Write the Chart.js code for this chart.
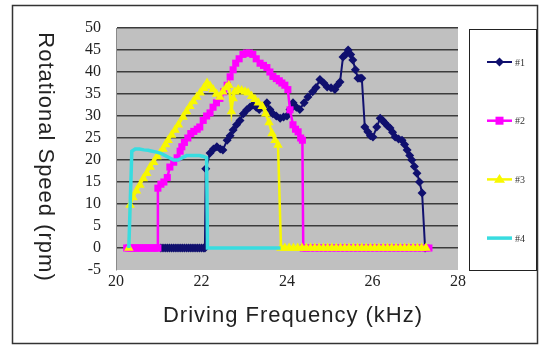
<!DOCTYPE html>
<html>
<head>
<meta charset="utf-8">
<script src="https://cdn.jsdelivr.net/npm/chart.js@4.4.1/dist/chart.umd.min.js"></script>
<style>
  body { margin: 0; background: #fff; }
  canvas { display: block; }
</style>
</head>
<body>
<canvas id="grafico" width="539" height="347"></canvas>
<script>
// Datos (frecuencia en kHz, velocidad en rpm)
const nombres = ['#1', '#2', '#3', '#4'];

const freq1 = [21.05,21.1,21.15,21.2,21.25,21.3,21.35,21.4,21.45,21.5,21.55,21.6,21.65,21.7,21.75,21.8,21.85,21.9,21.95,22.0,22.05,22.08,
  22.1,22.2,22.28,22.36,22.44,22.5,22.6,22.67,22.74,22.82,22.9,22.98,23.06,23.13,23.2,23.28,23.35,23.44,23.53,23.6,
  23.67,23.75,23.84,23.92,24.0,24.07,24.14,24.22,24.3,24.4,24.49,24.6,24.68,24.77,24.86,24.94,25.03,25.12,25.18,25.24,
  25.31,25.37,25.43,25.49,25.54,25.6,25.66,25.71,25.75,25.82,25.89,25.95,26.01,26.1,26.18,26.24,26.29,26.35,26.41,26.47,
  26.53,26.61,26.69,26.75,26.81,26.87,26.92,26.98,27.04,27.1,27.16,27.23];
const vel1 = [0,0,0,0,0,0,0,0,0,0,0,0,0,0,0,0,0,0,0,0,0,0,
  18,21.6,22.5,23,22.5,22.3,24.5,25.5,26.8,28,29,30.5,31.4,32,32.5,32,31.5,32,33,31.5,
  30.5,30,29.5,29.8,30,31.5,33,32,31.5,33,34.3,35.5,36.5,38.3,37.5,36.6,36.4,36,37,37.7,
  43.4,44,45,44,42.7,40.5,38.6,38.6,38.6,27.5,26.4,25.5,25.2,27.5,29.5,29,28.4,27.8,27.3,26.3,
  25.2,24.8,24.5,23.5,22.3,21,20,18.5,17,15,12.5,0];

const freq2 = [20.25,20.3,20.35,20.4,20.45,20.5,20.55,20.6,20.65,20.7,20.75,20.8,20.85,20.9,20.95,20.98,
  20.98,21.05,21.12,21.2,21.26,21.35,21.43,21.5,21.54,21.6,21.68,21.75,21.82,21.9,21.96,22.04,22.12,22.2,22.27,22.35,
  22.43,22.52,22.6,22.67,22.74,22.8,22.88,22.97,23.05,23.12,23.2,23.28,23.37,23.45,23.53,23.6,23.67,23.75,23.82,23.88,
  23.95,24.02,24.07,24.14,24.2,24.26,24.32,24.36,24.38,
  24.45,24.55,24.65,24.75,24.85,24.95,25.05,25.15,25.25,25.35,25.45,25.55,25.65,25.75,25.85,25.95,
  26.05,26.15,26.25,26.35,26.45,26.55,26.65,26.75,26.85,26.95,27.05,27.15,27.25,27.32];
const vel2 = [0,0,0,0,0,0,0,0,0,0,0,0,0,0,0,0,
  13.6,14.5,15,16,18.4,19.5,20.5,22,23,24,25,26,26.5,27,27.5,29,30,30.7,32,33,
  34,35.5,37,38.9,40.5,42,43,44,44.3,44.3,44,43,42,41.5,41,40,39,38.5,38,37.5,
  37,36,31.4,28,27,26.4,25,24.5,0,
  0,0,0,0,0,0,0,0,0,0,0,0,0,0,0,0,
  0,0,0,0,0,0,0,0,0,0,0,0,0,0];

const freq3 = [20.3,20.33,20.4,20.48,20.56,20.64,20.72,20.8,20.88,20.96,21.03,21.1,21.16,21.22,21.3,21.38,21.46,21.57,21.65,21.73,
  21.81,21.89,21.97,22.05,22.13,22.2,22.27,22.35,22.43,22.5,22.58,22.64,22.7,22.74,22.78,22.86,22.94,23.02,23.09,23.17,
  23.25,23.33,23.42,23.5,23.58,23.65,23.72,23.79,23.86,
  23.95,24.05,24.15,24.25,24.35,24.45,24.55,24.65,24.75,24.85,24.95,25.05,25.15,25.25,25.35,25.45,25.55,25.65,25.75,
  25.85,25.95,26.05,26.15,26.25,26.35,26.45,26.55,26.65,26.75,26.85,26.95,27.05,27.15,27.25];
const vel3 = [0,9.8,11.5,13,14.3,15.8,17,18.4,19.5,20.8,21.6,22.5,23.5,24.5,25.7,26.8,28,29.8,31,32.2,
  33.3,34.3,35.3,36.3,37.5,36.8,36,35,34.3,35.5,36.5,37,31,34,35.5,36,35.8,35.5,35.3,34.5,
  33.8,33,32.2,30.5,28.5,26,24.5,23.4,0,
  0,0,0,0,0,0,0,0,0,0,0,0,0,0,0,0,0,0,0,
  0,0,0,0,0,0,0,0,0,0,0,0,0,0,0];

const freq4 = [20.3,20.37,20.45,20.55,20.65,20.75,20.85,20.95,21.05,21.15,21.25,21.35,21.45,21.55,21.65,21.75,21.85,21.95,22.05,22.12,22.14,
  22.3,22.5,22.7,22.9,23.1,23.3,23.5,23.7,23.85];
const vel4 = [0,22,22.5,22.5,22.3,22.2,22,21.8,21.5,21,20.5,20,20,20.5,21,21,21,21,20.8,20.5,0,
  0,0,0,0,0,0,0,0,0];

const xTicks = [20, 22, 24, 26, 28];
const yTicks = [-5, 0, 5, 10, 15, 20, 25, 30, 35, 40, 45, 50];

function puntos(xs, ys) {
  return xs.map((x, i) => ({ x: x, y: ys[i] }));
}

// Fondo gris, marco exterior, leyenda y titulos de ejes
const marco = {
  id: 'marco',
  beforeDraw(chart) {
    const ctx = chart.ctx;
    const a = chart.chartArea;
    ctx.save();
    ctx.fillStyle = '#ffffff';
    ctx.fillRect(0, 0, chart.width, chart.height);
    ctx.fillStyle = '#c0c0c0';
    ctx.fillRect(a.left, a.top, a.right - a.left, a.bottom - a.top);
    ctx.restore();
  },
  afterDraw(chart) {
    const ctx = chart.ctx;
    ctx.save();
    // marco exterior
    ctx.strokeStyle = '#333';
    ctx.lineWidth = 1.5;
    ctx.strokeRect(12.5, 5.5, 525, 338);

    // leyenda
    ctx.lineWidth = 1;
    ctx.strokeStyle = '#222';
    ctx.strokeRect(469.5, 29.5, 67, 241);
    chart.data.datasets.forEach((ds, i) => {
      const y = 62 + i * 58.7;
      ctx.strokeStyle = ds.borderColor;
      ctx.lineWidth = ds.borderWidth;
      ctx.beginPath();
      ctx.moveTo(487, y);
      ctx.lineTo(512, y);
      ctx.stroke();
      ctx.fillStyle = ds.backgroundColor;
      const r = ds.pointRadius;
      if (r > 0) {
        ctx.beginPath();
        if (ds.pointStyle === 'rectRot') {
          ctx.moveTo(499.5, y - r); ctx.lineTo(499.5 + r, y); ctx.lineTo(499.5, y + r); ctx.lineTo(499.5 - r, y);
        } else if (ds.pointStyle === 'triangle') {
          ctx.moveTo(499.5, y - r); ctx.lineTo(499.5 + r, y + r * 0.6); ctx.lineTo(499.5 - r, y + r * 0.6);
        } else {
          ctx.rect(499.5 - r * 0.8, y - r * 0.8, r * 1.6, r * 1.6);
        }
        ctx.closePath();
        ctx.fill();
      }
      ctx.fillStyle = '#333';
      ctx.font = '10px "Liberation Serif"';
      ctx.textAlign = 'left';
      ctx.textBaseline = 'middle';
      ctx.fillText(ds.label, 515, y + 1);
    });

    // titulos de ejes
    ctx.fillStyle = '#222';
    ctx.font = '22px "Liberation Sans"';
    ctx.letterSpacing = '1px';
    ctx.textAlign = 'center';
    ctx.textBaseline = 'middle';
    ctx.fillText('Driving Frequency (kHz)', 293, 316);
    ctx.translate(45, 157);
    ctx.rotate(Math.PI / 2);
    ctx.fillText('Rotational Speed (rpm)', 0, 0);
    ctx.restore();
  }
};

const ctx = document.getElementById('grafico').getContext('2d');

new Chart(ctx, {
  type: 'scatter',
  data: {
    datasets: [
      {
        label: nombres[0], data: puntos(freq1, vel1), showLine: true, order: 4,
        borderColor: '#10106e', backgroundColor: '#10106e', borderWidth: 2,
        pointStyle: 'rectRot', pointRadius: 4.5, pointBorderWidth: 0
      },
      {
        label: nombres[1], data: puntos(freq2, vel2), showLine: true, order: 3,
        borderColor: '#ff00ff', backgroundColor: '#ff00ff', borderWidth: 2.5,
        pointStyle: 'rect', pointRadius: 5, pointBorderWidth: 0
      },
      {
        label: nombres[2], data: puntos(freq3, vel3), showLine: true, order: 2,
        borderColor: '#f8f800', backgroundColor: '#f8f800', borderWidth: 2.5,
        pointStyle: 'triangle', pointRadius: 5.5, pointBorderWidth: 0
      },
      {
        label: nombres[3], data: puntos(freq4, vel4), showLine: true, order: 1,
        borderColor: '#38dce0', backgroundColor: '#38dce0', borderWidth: 3.5,
        pointStyle: 'circle', pointRadius: 0, pointBorderWidth: 0
      }
    ]
  },
  options: {
    responsive: false,
    animation: false,
    layout: { padding: { left: 0, top: 28, right: 81, bottom: 0 } },
    plugins: {
      legend: { display: false },
      tooltip: { enabled: false }
    },
    scales: {
      x: {
        type: 'linear', min: 20, max: 28,
        afterBuildTicks(scale) { scale.ticks = xTicks.map(v => ({ value: v })); },
        afterFit(scale) { scale.height = 77; },
        grid: { display: false, drawTicks: false },
        border: { display: false },
        ticks: { autoSkip: false, maxRotation: 0, padding: 2, color: '#222', font: { family: 'Liberation Serif', size: 16 } }
      },
      y: {
        min: -5, max: 50,
        afterBuildTicks(scale) { scale.ticks = yTicks.map(v => ({ value: v })); },
        afterFit(scale) { scale.width = 116; },
        grid: {
          drawTicks: false, lineWidth: 1.5,
          color: c => (c.tick && c.tick.value === -5) ? 'rgba(0,0,0,0)' : '#3c3c3c'
        },
        border: { display: true, color: '#8a8a8a', width: 1 },
        ticks: { autoSkip: false, padding: 15, color: '#222', font: { family: 'Liberation Serif', size: 16 } }
      }
    }
  },
  plugins: [marco]
});
</script>
</body>
</html>
